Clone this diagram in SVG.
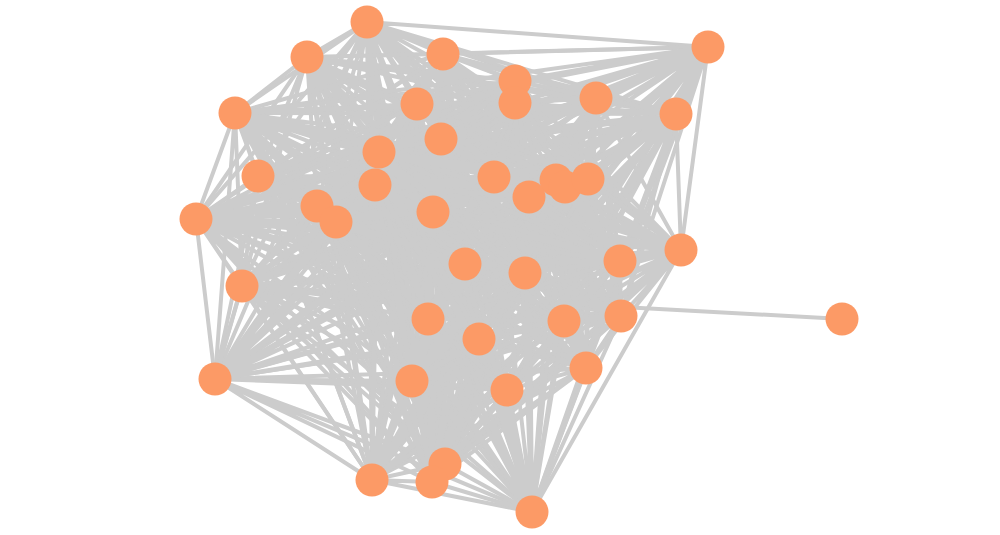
<svg xmlns="http://www.w3.org/2000/svg" width="1000" height="535" viewBox="0 0 1000 535">
<style>
.e{fill:none;stroke:#cccccc;stroke-width:4;stroke-linejoin:round;stroke-linecap:round}
.n circle{fill:#fc9a66}
</style>
<rect width="1000" height="535" fill="#ffffff"/>
<g id="connectors" class="e">
<path d="M367 22 307 57 367 22 443 54 367 22 708 47 367 22 515 81 367 22 515 103 367 22 417 104 367 22 596 98 367 22 676 114 367 22 235 113 367 22 441 139 367 22 379 152 367 22 258 176 367 22 375 185 367 22 494 177 367 22 556 180 367 22 565 187 367 22 588 179 367 22 529 197 367 22 196 219 367 22 317 206 367 22 336 222 367 22 433 212 367 22 681 250 367 22 465 264 367 22 525 273 367 22 620 261 367 22 242 286 367 22 621 316 367 22 428 319 367 22 564 321 367 22 479 339 367 22 586 368 367 22 215 379 367 22 412 381 367 22 507 390 367 22 445 464 367 22 372 480 367 22 432 482 367 22 532 512"/>
<path d="M307 57 443 54 307 57 708 47 307 57 515 81 307 57 515 103 307 57 417 104 307 57 596 98 307 57 676 114 307 57 235 113 307 57 441 139 307 57 379 152 307 57 258 176 307 57 375 185 307 57 494 177 307 57 556 180 307 57 565 187 307 57 588 179 307 57 529 197 307 57 196 219 307 57 317 206 307 57 336 222 307 57 433 212 307 57 681 250 307 57 465 264 307 57 525 273 307 57 620 261 307 57 242 286 307 57 621 316 307 57 428 319 307 57 564 321 307 57 479 339 307 57 586 368 307 57 215 379 307 57 412 381 307 57 507 390 307 57 445 464 307 57 372 480 307 57 432 482 307 57 532 512"/>
<path d="M443 54 708 47 443 54 515 81 443 54 515 103 443 54 417 104 443 54 596 98 443 54 676 114 443 54 235 113 443 54 441 139 443 54 379 152 443 54 258 176 443 54 375 185 443 54 494 177 443 54 556 180 443 54 565 187 443 54 588 179 443 54 529 197 443 54 196 219 443 54 317 206 443 54 336 222 443 54 433 212 443 54 681 250 443 54 465 264 443 54 525 273 443 54 620 261 443 54 242 286 443 54 621 316 443 54 428 319 443 54 564 321 443 54 479 339 443 54 586 368 443 54 215 379 443 54 412 381 443 54 507 390 443 54 445 464 443 54 372 480 443 54 432 482 443 54 532 512"/>
<path d="M708 47 515 81 708 47 515 103 708 47 417 104 708 47 596 98 708 47 676 114 708 47 235 113 708 47 441 139 708 47 379 152 708 47 258 176 708 47 375 185 708 47 494 177 708 47 556 180 708 47 565 187 708 47 588 179 708 47 529 197 708 47 196 219 708 47 317 206 708 47 336 222 708 47 433 212 708 47 681 250 708 47 465 264 708 47 525 273 708 47 620 261 708 47 242 286 708 47 621 316 708 47 428 319 708 47 564 321 708 47 479 339 708 47 586 368 708 47 215 379 708 47 412 381 708 47 507 390 708 47 445 464 708 47 372 480 708 47 432 482 708 47 532 512"/>
<path d="M596 98 515 81 596 98 515 103 596 98 417 104 596 98 676 114 596 98 235 113 596 98 441 139 596 98 379 152 596 98 258 176 596 98 375 185 596 98 494 177 596 98 556 180 596 98 565 187 596 98 588 179 596 98 529 197 596 98 196 219 596 98 317 206 596 98 336 222 596 98 433 212 596 98 681 250 596 98 465 264 596 98 525 273 596 98 620 261 596 98 242 286 596 98 621 316 596 98 428 319 596 98 564 321 596 98 479 339 596 98 586 368 596 98 215 379 596 98 412 381 596 98 507 390 596 98 445 464 596 98 372 480 596 98 432 482 596 98 532 512"/>
<path d="M676 114 515 81 676 114 515 103 676 114 417 104 676 114 235 113 676 114 441 139 676 114 379 152 676 114 258 176 676 114 375 185 676 114 494 177 676 114 556 180 676 114 565 187 676 114 588 179 676 114 529 197 676 114 196 219 676 114 317 206 676 114 336 222 676 114 433 212 676 114 681 250 676 114 465 264 676 114 525 273 676 114 620 261 676 114 242 286 676 114 621 316 676 114 428 319 676 114 564 321 676 114 479 339 676 114 586 368 676 114 215 379 676 114 412 381 676 114 507 390 676 114 445 464 676 114 372 480 676 114 432 482 676 114 532 512"/>
<path d="M235 113 515 81 235 113 515 103 235 113 417 104 235 113 441 139 235 113 379 152 235 113 258 176 235 113 375 185 235 113 494 177 235 113 556 180 235 113 565 187 235 113 588 179 235 113 529 197 235 113 196 219 235 113 317 206 235 113 336 222 235 113 433 212 235 113 681 250 235 113 465 264 235 113 525 273 235 113 620 261 235 113 242 286 235 113 621 316 235 113 428 319 235 113 564 321 235 113 479 339 235 113 586 368 235 113 215 379 235 113 412 381 235 113 507 390 235 113 445 464 235 113 372 480 235 113 432 482 235 113 532 512"/>
<path d="M258 176 515 81 258 176 515 103 258 176 417 104 258 176 441 139 258 176 379 152 258 176 375 185 258 176 494 177 258 176 556 180 258 176 565 187 258 176 588 179 258 176 529 197 258 176 196 219 258 176 317 206 258 176 336 222 258 176 433 212 258 176 681 250 258 176 465 264 258 176 525 273 258 176 620 261 258 176 242 286 258 176 621 316 258 176 428 319 258 176 564 321 258 176 479 339 258 176 586 368 258 176 215 379 258 176 412 381 258 176 507 390 258 176 445 464 258 176 372 480 258 176 432 482 258 176 532 512"/>
<path d="M196 219 515 81 196 219 515 103 196 219 417 104 196 219 441 139 196 219 379 152 196 219 375 185 196 219 494 177 196 219 556 180 196 219 565 187 196 219 588 179 196 219 529 197 196 219 317 206 196 219 336 222 196 219 433 212 196 219 681 250 196 219 465 264 196 219 525 273 196 219 620 261 196 219 242 286 196 219 621 316 196 219 428 319 196 219 564 321 196 219 479 339 196 219 586 368 196 219 215 379 196 219 412 381 196 219 507 390 196 219 445 464 196 219 372 480 196 219 432 482 196 219 532 512"/>
<path d="M681 250 515 81 681 250 515 103 681 250 417 104 681 250 441 139 681 250 379 152 681 250 375 185 681 250 494 177 681 250 556 180 681 250 565 187 681 250 588 179 681 250 529 197 681 250 317 206 681 250 336 222 681 250 433 212 681 250 465 264 681 250 525 273 681 250 620 261 681 250 242 286 681 250 621 316 681 250 428 319 681 250 564 321 681 250 479 339 681 250 586 368 681 250 215 379 681 250 412 381 681 250 507 390 681 250 445 464 681 250 372 480 681 250 432 482 681 250 532 512"/>
<path d="M242 286 515 81 242 286 515 103 242 286 417 104 242 286 441 139 242 286 379 152 242 286 375 185 242 286 494 177 242 286 556 180 242 286 565 187 242 286 588 179 242 286 529 197 242 286 317 206 242 286 336 222 242 286 433 212 242 286 465 264 242 286 525 273 242 286 620 261 242 286 621 316 242 286 428 319 242 286 564 321 242 286 479 339 242 286 586 368 242 286 215 379 242 286 412 381 242 286 507 390 242 286 445 464 242 286 372 480 242 286 432 482 242 286 532 512 242 286 842 319"/>
<path d="M621 316 515 81 621 316 515 103 621 316 417 104 621 316 441 139 621 316 379 152 621 316 375 185 621 316 494 177 621 316 556 180 621 316 565 187 621 316 588 179 621 316 529 197 621 316 317 206 621 316 336 222 621 316 433 212 621 316 465 264 621 316 525 273 621 316 620 261 621 316 428 319 621 316 564 321 621 316 479 339 621 316 586 368 621 316 215 379 621 316 412 381 621 316 507 390 621 316 445 464 621 316 372 480 621 316 432 482 621 316 532 512"/>
<path d="M586 368 515 81 586 368 515 103 586 368 417 104 586 368 441 139 586 368 379 152 586 368 375 185 586 368 494 177 586 368 556 180 586 368 565 187 586 368 588 179 586 368 529 197 586 368 317 206 586 368 336 222 586 368 433 212 586 368 465 264 586 368 525 273 586 368 620 261 586 368 428 319 586 368 564 321 586 368 479 339 586 368 215 379 586 368 412 381 586 368 507 390 586 368 445 464 586 368 372 480 586 368 432 482 586 368 532 512"/>
<path d="M215 379 515 81 215 379 515 103 215 379 417 104 215 379 441 139 215 379 379 152 215 379 375 185 215 379 494 177 215 379 556 180 215 379 565 187 215 379 588 179 215 379 529 197 215 379 317 206 215 379 336 222 215 379 433 212 215 379 465 264 215 379 525 273 215 379 620 261 215 379 428 319 215 379 564 321 215 379 479 339 215 379 412 381 215 379 507 390 215 379 445 464 215 379 372 480 215 379 432 482 215 379 532 512"/>
<path d="M445 464 515 81 445 464 515 103 445 464 417 104 445 464 441 139 445 464 379 152 445 464 375 185 445 464 494 177 445 464 556 180 445 464 565 187 445 464 588 179 445 464 529 197 445 464 317 206 445 464 336 222 445 464 433 212 445 464 465 264 445 464 525 273 445 464 620 261 445 464 428 319 445 464 564 321 445 464 479 339 445 464 412 381 445 464 507 390 445 464 372 480 445 464 432 482 445 464 532 512"/>
<path d="M372 480 515 81 372 480 515 103 372 480 417 104 372 480 441 139 372 480 379 152 372 480 375 185 372 480 494 177 372 480 556 180 372 480 565 187 372 480 588 179 372 480 529 197 372 480 317 206 372 480 336 222 372 480 433 212 372 480 465 264 372 480 525 273 372 480 620 261 372 480 428 319 372 480 564 321 372 480 479 339 372 480 412 381 372 480 507 390 372 480 432 482 372 480 532 512"/>
<path d="M432 482 515 81 432 482 515 103 432 482 417 104 432 482 441 139 432 482 379 152 432 482 375 185 432 482 494 177 432 482 556 180 432 482 565 187 432 482 588 179 432 482 529 197 432 482 317 206 432 482 336 222 432 482 433 212 432 482 465 264 432 482 525 273 432 482 620 261 432 482 428 319 432 482 564 321 432 482 479 339 432 482 412 381 432 482 507 390 432 482 532 512"/>
<path d="M532 512 515 81 532 512 515 103 532 512 417 104 532 512 441 139 532 512 379 152 532 512 375 185 532 512 494 177 532 512 556 180 532 512 565 187 532 512 588 179 532 512 529 197 532 512 317 206 532 512 336 222 532 512 433 212 532 512 465 264 532 512 525 273 532 512 620 261 532 512 428 319 532 512 564 321 532 512 479 339 532 512 412 381 532 512 507 390"/>
<path d="M317 206 515 81 317 206 515 103 317 206 417 104 317 206 441 139 317 206 379 152 317 206 375 185 317 206 494 177 317 206 556 180 317 206 565 187 317 206 588 179 317 206 529 197 317 206 336 222 317 206 433 212 317 206 465 264 317 206 525 273 317 206 620 261 317 206 428 319 317 206 564 321 317 206 479 339 317 206 412 381 317 206 507 390"/>
<path d="M336 222 515 81 336 222 515 103 336 222 417 104 336 222 441 139 336 222 379 152 336 222 375 185 336 222 494 177 336 222 556 180 336 222 565 187 336 222 588 179 336 222 529 197 336 222 433 212 336 222 465 264 336 222 525 273 336 222 620 261 336 222 428 319 336 222 564 321 336 222 479 339 336 222 412 381 336 222 507 390"/>
<path d="M412 381 515 81 412 381 515 103 412 381 417 104 412 381 441 139 412 381 379 152 412 381 375 185 412 381 494 177 412 381 556 180 412 381 565 187 412 381 588 179 412 381 529 197 412 381 433 212 412 381 465 264 412 381 525 273 412 381 620 261 412 381 428 319 412 381 564 321 412 381 479 339 412 381 507 390"/>
<path d="M428 319 515 81 428 319 515 103 428 319 417 104 428 319 441 139 428 319 379 152 428 319 375 185 428 319 494 177 428 319 556 180 428 319 565 187 428 319 588 179 428 319 529 197 428 319 433 212 428 319 465 264 428 319 525 273 428 319 620 261 428 319 564 321 428 319 479 339 428 319 507 390"/>
<path d="M417 104 515 81 417 104 515 103 417 104 441 139 417 104 379 152 417 104 375 185 417 104 494 177 417 104 556 180 417 104 565 187 417 104 588 179 417 104 529 197 417 104 433 212 417 104 465 264 417 104 525 273 417 104 620 261 417 104 564 321 417 104 479 339 417 104 507 390"/>
<path d="M620 261 515 81 620 261 515 103 620 261 441 139 620 261 379 152 620 261 375 185 620 261 494 177 620 261 556 180 620 261 565 187 620 261 588 179 620 261 529 197 620 261 433 212 620 261 465 264 620 261 525 273 620 261 564 321 620 261 479 339 620 261 507 390"/>
<path d="M375 185 515 81 375 185 515 103 375 185 441 139 375 185 379 152 375 185 494 177 375 185 556 180 375 185 565 187 375 185 588 179 375 185 529 197 375 185 433 212 375 185 465 264 375 185 525 273 375 185 564 321 375 185 479 339 375 185 507 390"/>
<path d="M379 152 515 81 379 152 515 103 379 152 441 139 379 152 494 177 379 152 556 180 379 152 565 187 379 152 588 179 379 152 529 197 379 152 433 212 379 152 465 264 379 152 525 273 379 152 564 321 379 152 479 339 379 152 507 390"/>
</g>
<g class="n">
<g id="n1"><circle cx="367" cy="22" r="16.5"/></g>
<g id="n2"><circle cx="307" cy="57" r="16.5"/></g>
<g id="n3"><circle cx="443" cy="54" r="16.5"/></g>
<g id="n4"><circle cx="708" cy="47" r="16.5"/></g>
<g id="n5"><circle cx="515" cy="81" r="16.5"/></g>
<g id="n6"><circle cx="515" cy="103" r="16.5"/></g>
<g id="n7"><circle cx="417" cy="104" r="16.5"/></g>
<g id="n8"><circle cx="596" cy="98" r="16.5"/></g>
<g id="n9"><circle cx="676" cy="114" r="16.5"/></g>
<g id="n10"><circle cx="235" cy="113" r="16.5"/></g>
<g id="n11"><circle cx="441" cy="139" r="16.5"/></g>
<g id="n12"><circle cx="379" cy="152" r="16.5"/></g>
<g id="n13"><circle cx="258" cy="176" r="16.5"/></g>
<g id="n14"><circle cx="375" cy="185" r="16.5"/></g>
<g id="n15"><circle cx="494" cy="177" r="16.5"/></g>
<g id="n16"><circle cx="556" cy="180" r="16.5"/></g>
<g id="n17"><circle cx="565" cy="187" r="16.5"/></g>
<g id="n18"><circle cx="588" cy="179" r="16.5"/></g>
<g id="n19"><circle cx="529" cy="197" r="16.5"/></g>
<g id="n20"><circle cx="196" cy="219" r="16.5"/></g>
<g id="n21"><circle cx="317" cy="206" r="16.5"/></g>
<g id="n22"><circle cx="336" cy="222" r="16.5"/></g>
<g id="n23"><circle cx="433" cy="212" r="16.5"/></g>
<g id="n24"><circle cx="681" cy="250" r="16.5"/></g>
<g id="n25"><circle cx="465" cy="264" r="16.5"/></g>
<g id="n26"><circle cx="525" cy="273" r="16.5"/></g>
<g id="n27"><circle cx="620" cy="261" r="16.5"/></g>
<g id="n28"><circle cx="242" cy="286" r="16.5"/></g>
<g id="n29"><circle cx="842" cy="319" r="16.5"/></g>
<g id="n30"><circle cx="621" cy="316" r="16.5"/></g>
<g id="n31"><circle cx="428" cy="319" r="16.5"/></g>
<g id="n32"><circle cx="564" cy="321" r="16.5"/></g>
<g id="n33"><circle cx="479" cy="339" r="16.5"/></g>
<g id="n34"><circle cx="586" cy="368" r="16.5"/></g>
<g id="n35"><circle cx="215" cy="379" r="16.5"/></g>
<g id="n36"><circle cx="412" cy="381" r="16.5"/></g>
<g id="n37"><circle cx="507" cy="390" r="16.5"/></g>
<g id="n38"><circle cx="445" cy="464" r="16.5"/></g>
<g id="n39"><circle cx="372" cy="480" r="16.5"/></g>
<g id="n40"><circle cx="432" cy="482" r="16.5"/></g>
<g id="n41"><circle cx="532" cy="512" r="16.5"/></g>
</g>
</svg>
